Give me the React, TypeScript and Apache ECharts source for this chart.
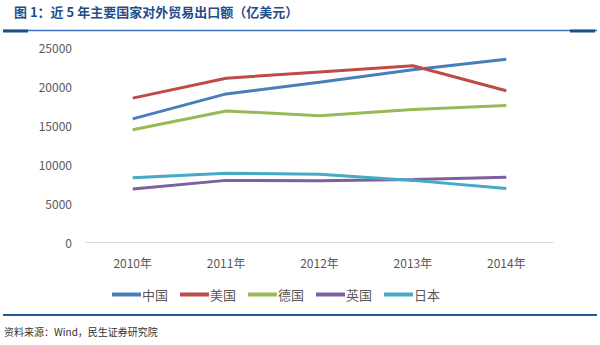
import React, { useEffect, useRef } from "react";
import * as echarts from "echarts";

const categories = ["2010年", "2011年", "2012年", "2013年", "2014年"];
const china = [15779, 18984, 20487, 22090, 23427];
const usa = [18442, 21000, 21800, 22600, 19400];
const germany = [14400, 16800, 16200, 17000, 17500];
const uk = [6800, 7900, 7850, 8000, 8300];
const japan = [8250, 8800, 8700, 7900, 6850];
const yTicks = { min: 0, max: 25000, interval: 5000 };

const seriesDefs = [
  { name: "中国", data: china, color: "#4a7ebb" },
  { name: "美国", data: usa, color: "#be4b48" },
  { name: "德国", data: germany, color: "#98b954" },
  { name: "英国", data: uk, color: "#7d60a0" },
  { name: "日本", data: japan, color: "#46aac5" },
];

export default function App() {
  const ref = useRef<HTMLDivElement>(null);
  useEffect(() => {
    if (!ref.current) return;
    const chart = echarts.init(ref.current, undefined, { renderer: "svg" });
    chart.setOption({
      animation: false,
      backgroundColor: "#ffffff",
      textStyle: { fontFamily: "'Noto Sans CJK SC', 'Noto Sans', sans-serif" },
      grid: { left: 86, right: 47, top: 47, bottom: 103, containLabel: false },
      legend: {
        left: 107,
        top: 283,
        icon: "rect",
        itemWidth: 29,
        itemHeight: 4,
        itemGap: 12,
        textStyle: { color: "#595959", fontSize: 13, padding: [0, 0, 0, -4] },
        data: seriesDefs.map((s) => s.name),
      },
      xAxis: {
        type: "category",
        data: categories,
        boundaryGap: true,
        axisLine: { lineStyle: { color: "#d9d9d9", width: 1 } },
        axisTick: { show: false },
        axisLabel: { color: "#595959", fontSize: 12, margin: 14 },
      },
      yAxis: {
        type: "value",
        min: yTicks.min,
        max: yTicks.max,
        interval: yTicks.interval,
        axisLine: { show: false },
        axisTick: { show: false },
        splitLine: { show: false },
        axisLabel: { color: "#595959", fontSize: 12, margin: 14, formatter: (v: number) => String(v) },
      },
      series: seriesDefs.map((s) => ({
        name: s.name,
        type: "line",
        data: s.data,
        symbol: "none",
        color: s.color,
        lineStyle: { color: s.color, width: 3 },
      })),
      graphic: [
        {
          type: "text",
          left: 14,
          top: 5,
          style: {
            text: "图 1：近 5 年主要国家对外贸易出口额（亿美元）",
            fill: "#1f4e8c",
            font: "bold 13px 'Noto Sans CJK SC', sans-serif",
          },
        },
        { type: "line", shape: { x1: 3, y1: 30.5, x2: 597, y2: 30.5 }, style: { stroke: "#3b72b9", lineWidth: 1.5 } },
        { type: "line", shape: { x1: 3, y1: 31, x2: 28, y2: 31 }, style: { stroke: "#1f4e8c", lineWidth: 3 } },
        { type: "line", shape: { x1: 570, y1: 31, x2: 595, y2: 31 }, style: { stroke: "#1f4e8c", lineWidth: 3 } },
        { type: "line", shape: { x1: 3, y1: 315, x2: 597, y2: 315 }, style: { stroke: "#1f5a9e", lineWidth: 2 } },
        {
          type: "text",
          left: 4,
          top: 326,
          style: {
            text: "资料来源：Wind，民生证券研究院",
            fill: "#333333",
            font: "10px 'Noto Sans CJK SC', sans-serif",
          },
        },
      ],
    });
    return () => chart.dispose();
  }, []);
  return (
    <div
      ref={ref}
      style={{ position: "fixed", left: 0, top: 0, width: 600, height: 345, background: "#fff" }}
    />
  );
}
